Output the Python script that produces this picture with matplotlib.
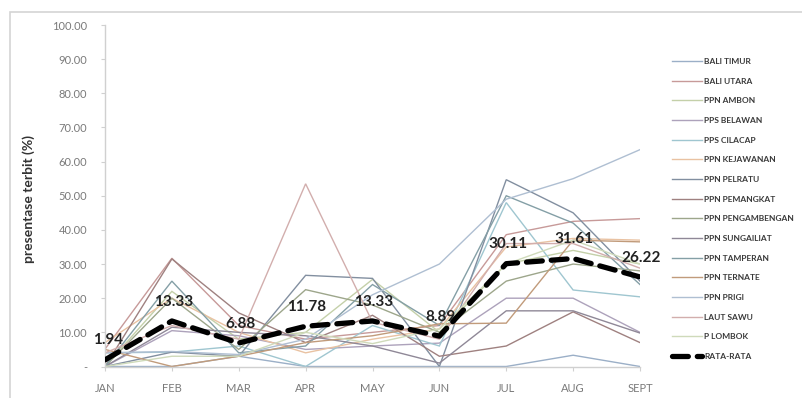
import matplotlib
matplotlib.use("Agg")
import matplotlib.pyplot as plt
from matplotlib.patches import Rectangle
from matplotlib.ticker import FuncFormatter, MultipleLocator
import matplotlib.colors as mcolors

# ---- data -------------------------------------------------------------
months = ["JAN", "FEB", "MAR", "APR", "MAY", "JUN", "JUL", "AUG", "SEPT"]

bali_timur       = [0, 0, 3, 0, 0, 0, 0, 3.3, 0]
bali_utara       = [5.1, 31.7, 12, 8, 10, 12, 38.6, 42.5, 43.3]
ppn_ambon        = [0, 22, 8, 10, 25.5, 10, 30, 34, 30]
pps_belawan      = [0, 10.5, 9, 5, 6, 6.85, 20, 20, 10]
pps_cilacap      = [4, 4.2, 6, 0, 12, 6, 48, 22.4, 20.4]
ppn_kejawanan    = [7, 20, 10, 4, 8, 11, 35, 37.5, 37]
ppn_pelratu      = [0, 4.2, 3, 26.7, 25.8, 0, 54.7, 45, 25]
ppn_pemangkat    = [0, 31.5, 15.7, 7, 15, 3, 6, 16, 7]
ppn_pengambengan = [0, 20, 5, 22.5, 18, 10, 25, 30, 28]
ppn_sungailiat   = [0, 11.5, 10, 9, 6, 1, 16.3, 16.3, 9.8]
ppn_tamperan     = [0, 25, 4, 6, 24, 12, 50, 42, 24]
ppn_ternate      = [5, 0, 3, 7, 9, 12.5, 12.7, 37, 36.5]
ppn_prigi        = [4, 4.4, 3.5, 8, 21, 30, 49, 55, 63.5]
laut_sawu        = [4, 12, 8, 53.5, 13, 8, 36, 36, 28.8]
p_lombok         = [0, 3, 3, 10, 6.7, 11, 30, 37, 30]

rata_rata = [1.94, 13.33, 6.88, 11.78, 13.33, 8.89, 30.11, 31.61, 26.22]

series_names = ["BALI TIMUR", "BALI UTARA", "PPN AMBON", "PPS BELAWAN",
                "PPS CILACAP", "PPN KEJAWANAN", "PPN PELRATU", "PPN PEMANGKAT",
                "PPN PENGAMBENGAN", "PPN SUNGAILIAT", "PPN TAMPERAN",
                "PPN TERNATE", "PPN PRIGI", "LAUT SAWU", "P LOMBOK"]
series_values = [bali_timur, bali_utara, ppn_ambon, pps_belawan, pps_cilacap,
                 ppn_kejawanan, ppn_pelratu, ppn_pemangkat, ppn_pengambengan,
                 ppn_sungailiat, ppn_tamperan, ppn_ternate, ppn_prigi,
                 laut_sawu, p_lombok]
series_colors = ["#4F81BD", "#C0504D", "#9BBB59", "#8064A2", "#4BACC6",
                 "#F79646", "#2C4D75", "#772C2A", "#5F7530", "#4D3B62",
                 "#276A7C", "#B65708", "#729ACA", "#CD7371", "#AFC97A"]

# ---- styling helpers --------------------------------------------------
def soften(c, amount=0.38):
    r, g, b = mcolors.to_rgb(c)
    gray = 0.3 * r + 0.59 * g + 0.11 * b
    r, g, b = [v * 0.65 + gray * 0.35 for v in (r, g, b)]
    return (r + (1 - r) * amount, g + (1 - g) * amount, b + (1 - b) * amount)

plt.rcParams['font.family'] = ['Lato', 'DejaVu Sans']

W, H = 802, 398
fig = plt.figure(figsize=(W / 100, H / 100), dpi=100)
fig.patch.set_facecolor("white")

# chart frame
fig.add_artist(Rectangle((10 / W, -0.02), 1.0, (H - 12) / H + 0.02,
                         transform=fig.transFigure, fill=False,
                         edgecolor="#D4D4D4", linewidth=1.2))

ax_left, ax_right = 105, 640
ax_top, ax_bottom = 25, 366.5
ax = fig.add_axes([ax_left / W, (H - ax_bottom) / H,
                   (ax_right - ax_left) / W, (ax_bottom - ax_top) / H])

x = list(range(len(months)))
for name, vals, col in zip(series_names, series_values, series_colors):
    ax.plot(x, vals, color=soften(col), linewidth=1.0, label=name,
            solid_joinstyle="miter", zorder=2)

ax.plot(x, rata_rata, color="black", linewidth=3.8,
        linestyle=(0, (3.0, 1.7)), dash_capstyle="round",
        label="RATA-RATA", zorder=4)

for xi, v in zip(x, rata_rata):
    ax.annotate(f"{v:.2f}", (xi, v), xytext=(1 if xi else 2, 14),
                textcoords="offset points", ha="center", va="center",
                fontsize=11, fontweight="bold", color="#222222", zorder=5)

ax.set_xlim(0, len(months) - 1)
ax.set_ylim(0, 100)
ax.set_xticks(x)
ax.set_xticklabels(months)
ax.yaxis.set_major_locator(MultipleLocator(10))
ax.yaxis.set_major_formatter(FuncFormatter(lambda v, p: "-" if v == 0 else f"{v:.2f}"))

for side in ("top", "right"):
    ax.spines[side].set_visible(False)
for side in ("left", "bottom"):
    ax.spines[side].set_color("#D0D0D0")
    ax.spines[side].set_linewidth(1.0)

ax.tick_params(axis="both", colors="#D0D0D0", labelcolor="#7A7A7A",
               labelsize=8, length=3, width=0.8)
ax.tick_params(axis="y", pad=10)
ax.tick_params(axis="x", pad=9)

ax.set_ylabel("presentase terbit (%)", fontsize=10, fontweight="bold",
              color="#333333", labelpad=20)
ax.yaxis.set_label_coords(-(ax_left - 35) / (ax_right - ax_left), 0.49)

handles, labels = ax.get_legend_handles_labels()
leg = fig.legend(handles, labels, loc="upper left",
                 bbox_to_anchor=(672 / W, 1 - 58 / H),
                 frameon=False, fontsize=6, labelspacing=1.52,
                 handlelength=3.6, handletextpad=0.3, borderaxespad=0,
                 borderpad=0)
for t in leg.get_texts():
    t.set_color("#3A3A3A")
    t.set_fontweight("bold")

fig.savefig("out.png", dpi=100, facecolor="white")
